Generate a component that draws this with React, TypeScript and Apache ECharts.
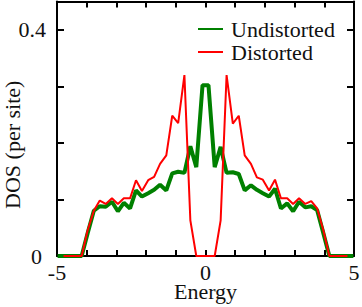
import React, { useEffect, useRef } from "react";
import * as echarts from "echarts";

const energies = [
  -4.98, -4.78, -4.58, -4.37, -4.17, -3.97, -3.76, -3.56, -3.36, -3.15,
  -2.95, -2.75, -2.54, -2.34, -2.14, -1.93, -1.73, -1.53, -1.32, -1.12,
  -0.92, -0.71, -0.51, -0.31, -0.1, 0.1, 0.31, 0.51, 0.71, 0.92,
  1.12, 1.32, 1.53, 1.73, 1.93, 2.14, 2.34, 2.54, 2.75, 2.95,
  3.15, 3.36, 3.56, 3.76, 3.97, 4.17, 4.37, 4.58, 4.78, 4.98,
];

const undistorted = [
  0, 0, 0, 0, 0, 0.04, 0.08, 0.088, 0.087, 0.096,
  0.079, 0.094, 0.084, 0.116, 0.105, 0.111, 0.117, 0.126, 0.116, 0.146,
  0.149, 0.147, 0.194, 0.157, 0.302, 0.302, 0.157, 0.193, 0.147, 0.148,
  0.145, 0.116, 0.125, 0.117, 0.111, 0.105, 0.119, 0.084, 0.093, 0.079,
  0.096, 0.086, 0.088, 0.081, 0.04, 0, 0, 0, 0, 0,
];

const distorted = [
  null, 0, 0, 0, 0, 0.045, 0.08, 0.098, 0.092, 0.102,
  0.092, 0.102, 0.102, 0.134, 0.115, 0.134, 0.14, 0.163, 0.178, 0.248,
  0.235, 0.32, 0.063, 0, 0, 0, 0, 0.063, 0.32, 0.234,
  0.248, 0.178, 0.163, 0.139, 0.135, 0.116, 0.135, 0.102, 0.102, 0.092,
  0.102, 0.092, 0.097, 0.084, 0.045, 0, 0, 0, 0, null,
];

const xTickLabels = [-5, 0, 5];
const yTickLabels = [0, 0.4];

const FONT = "'Liberation Serif', 'Times New Roman', 'DejaVu Serif', serif";
const TEXT = "#111";

export default function App() {
  const ref = useRef<HTMLDivElement>(null);
  useEffect(() => {
    if (!ref.current) return;
    const chart = echarts.init(ref.current, null, { renderer: "svg" });
    const pairs = (ys: (number | null)[]) =>
      energies.map((e, i) => [e, ys[i] === null ? null : ys[i]]);
    const axisLine = { show: true, onZero: false, lineStyle: { color: "#000", width: 2 } };
    const tick = (len: number) => ({ show: true, inside: true, length: len, lineStyle: { color: "#000", width: 2 } });
    chart.setOption({
      animation: false,
      textStyle: { fontFamily: FONT, fontSize: 22, color: TEXT },
      grid: { left: 57, right: 8, top: 1.5, bottom: 51, containLabel: false, outerBoundsMode: "none" },
      legend: {
        left: 192,
        top: 13,
        orient: "vertical",
        itemWidth: 25,
        itemHeight: 14,
        itemGap: 1,
        itemStyle: { color: "rgba(0,0,0,0)", borderColor: "rgba(0,0,0,0)", borderWidth: 0 },
        textStyle: { fontFamily: FONT, fontSize: 22, color: TEXT, lineHeight: 22, padding: [0, 0, 0, 3] },
        data: ["Undistorted", "Distorted"],
      },
      xAxis: [
        {
          type: "value",
          min: -5,
          max: 5,
          interval: 1,
          position: "bottom",
          name: "Energy",
          nameLocation: "middle",
          nameGap: 26,
          nameMoveOverlap: false,
          nameTextStyle: { fontFamily: FONT, fontSize: 22, color: TEXT, lineHeight: 18 },
          axisLine,
          axisTick: tick(6),
          axisLabel: {
            margin: 7,
            fontFamily: FONT,
            fontSize: 22,
            lineHeight: 18,
            color: TEXT,
            formatter: (v: number) => (xTickLabels.some((t) => Math.abs(t - v) < 1e-6) ? String(v) : ""),
          },
          splitLine: { show: false },
        },
        {
          type: "value",
          min: -5,
          max: 5,
          interval: 1,
          position: "top",
          axisLine,
          axisTick: tick(6),
          axisLabel: { show: false },
          splitLine: { show: false },
        },
      ],
      yAxis: [
        {
          type: "value",
          min: 0,
          max: 0.45,
          interval: 0.1,
          position: "left",
          name: "DOS (per site)",
          nameLocation: "middle",
          nameGap: 34,
          nameMoveOverlap: false,
          nameTextStyle: { fontFamily: FONT, fontSize: 22, color: TEXT, padding: [0, 32, 0, 0] },
          axisLine,
          axisTick: tick(7),
          axisLabel: {
            margin: 11,
            fontFamily: FONT,
            fontSize: 22,
            color: TEXT,
            formatter: (v: number) => {
              const t = yTickLabels.find((y) => Math.abs(y - v) < 1e-6);
              if (t === undefined) return "";
              return t === 0 ? "{z|0}" : "{n|" + String(t) + "}";
            },
            rich: {
              z: { fontFamily: FONT, fontSize: 22, color: TEXT, padding: [0, 4, 0, 0] },
              n: { fontFamily: FONT, fontSize: 22, color: TEXT },
            },
          },
          splitLine: { show: false },
        },
        {
          type: "value",
          min: 0,
          max: 0.45,
          interval: 0.1,
          position: "right",
          axisLine,
          axisTick: tick(7),
          axisLabel: { show: false },
          splitLine: { show: false },
        },
      ],
      series: [
        {
          name: "Undistorted",
          type: "line",
          xAxisIndex: 0,
          yAxisIndex: 0,
          data: pairs(undistorted),
          symbol: "none",
          color: "#008000",
          lineStyle: { color: "#008000", width: 4 },
          z: 2,
        },
        {
          name: "Distorted",
          type: "line",
          xAxisIndex: 0,
          yAxisIndex: 0,
          data: pairs(distorted),
          symbol: "none",
          color: "#ff0000",
          lineStyle: { color: "#ff0000", width: 2 },
          z: 3,
        },
      ],
    });
    return () => chart.dispose();
  }, []);
  return <div ref={ref} style={{ width: 362, height: 307, position: "absolute", left: 0, top: 0 }} />;
}
